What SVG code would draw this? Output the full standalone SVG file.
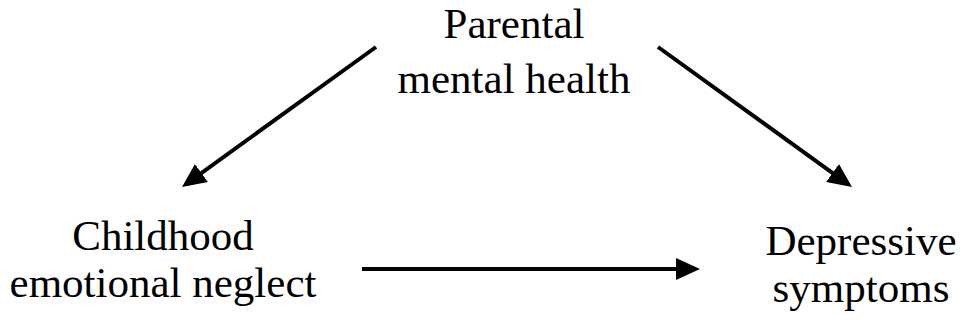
<svg xmlns="http://www.w3.org/2000/svg" width="966" height="324" viewBox="0 0 966 324">
  <style>
    .label { font-family: "Liberation Serif", "Times New Roman", serif; font-size: 43px; fill: #000; text-anchor: middle; }
    .edge { stroke: #000; stroke-width: 4; fill: none; marker-end: url(#head); }
  </style>
  <defs>
    <marker id="head" viewBox="-4 -11 24 22" refX="0" refY="0" markerWidth="24" markerHeight="22" markerUnits="userSpaceOnUse" orient="auto">
      <path d="M-4,-11 L20,0 L-4,11 Z" fill="#000"/>
    </marker>
  </defs>
  <rect width="966" height="324" fill="#fff"/>

  <g id="parental">
    <text class="label" x="514" y="38">Parental</text>
    <text class="label" x="514" y="93">mental health</text>
  </g>
  <g id="neglect">
    <text class="label" x="163" y="250">Childhood</text>
    <text class="label" x="163" y="297">emotional neglect</text>
  </g>
  <g id="depressive">
    <text class="label" x="861" y="255">Depressive</text>
    <text class="label" x="861" y="302">symptoms</text>
  </g>

  <g id="connectors">
    <path class="edge" d="M376,47 L198.2,175.3"/>
    <path class="edge" d="M658,47 L835.8,175.3"/>
    <path class="edge" d="M362,269 L680,269"/>
  </g>
</svg>
